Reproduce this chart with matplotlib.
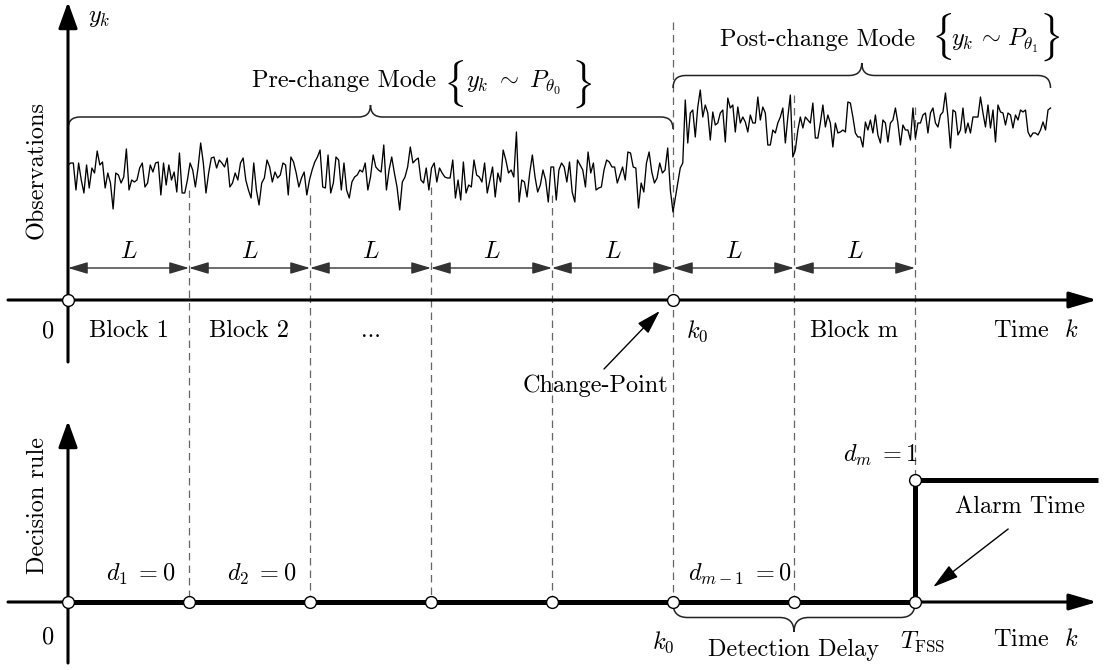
import numpy as np
import matplotlib.pyplot as plt
from matplotlib.path import Path
from matplotlib.patches import PathPatch

plt.rcParams['font.family'] = 'cmr10'
plt.rcParams['mathtext.fontset'] = 'cm'
plt.rcParams['axes.unicode_minus'] = False

# observations y_k before the change point (blocks 1..5)
pre_change = [
    35, 37, 37, 10, 37, 20, 7, 35, 12, 32, 27, 49, 35, 38, 12, 27, 17, -9, 27, 25,
    17, 23, 51, 10, 20, 18, 20, 32, 37, 13, 17, 35, 28, 37, 38, 5, 37, 15, 35, 20,
    28, 8, 47, 7, 7, 20, 37, 30, 13, 32, 57, 37, 7, 27, 42, 43, 32, 40, 37, 33,
    42, 13, 17, 27, 20, 37, 42, 20, 10,
    2, 37, 10, -5, 17, 22, 40, 33, 18, 28, 22, 25, 37, 35, 5, 43, 38, 27, 13, 22,
    28, 5, 20, 30, 38, 43, 50, 13, 12, 45, 7, 17, 43, 40, 10, 37, 10, 2, 18, 23,
    25, 30, 28, 37, 10, 23, 45, 33, 30, 28, 55, 10, 30, 43, 27, 13, -10, 18, 23, 33,
    53, 37, 40, 42, 20, 17, 32, 10, 32, 37, 18, 32, 27, 23,
    22, 22, 40, 2, 20, 0, 38, 7, 15, 13, 40, 25, 23, 18, 37, 7, 20, 33, 3, 27,
    18, 50, 40, 27, 30, 23, 68, -2, 20, 18, 3, 27, 45, 23, 8, 15, 30, 20, -2, 33,
    33, 0, 30, 37, 33, 18, 38, 8, -2, 40, 35, 30, 13, 48, 27, 37, 10, 12, 13, 30,
    40, 38, 33, 33, 17, 25, 33, 20, 48, 47, 33, 32, -8, 17, 8, 37, 48, 28, 17, 22,
    37, 27, 30, 52, 10, -12,
]

# observations y_k after the change point
post_change = [
    32, 37, 100, 57, 87, 90, 63, 93, 110, 83, 95, 87, 60, 88, 75, 77, 87, 90, 58, 102,
    92, 95, 68, 93, 77, 83, 78, 68, 85, 77, 77, 103, 80, 93, 87, 55, 55, 70, 67, 77,
    83, 92, 57, 83, 105, 43, 50, 70, 83, 72, 83, 80, 77, 97, 62, 62, 77, 95, 73, 85,
    77, 53, 77, 67, 68, 70, 68, 98, 97, 83, 67,
    63, 63, 53, 78, 70, 80, 67, 85, 65, 57, 80, 77, 58, 77, 80, 92, 77, 55, 75, 70,
    70, 60, 92, 62, 77, 77, 85, 87, 67, 87, 92, 77, 73, 85, 88, 107, 83, 52, 90, 88,
    65, 70, 92, 67, 77, 67, 83, 83, 83, 103, 87, 73, 95, 72, 90, 58, 95, 88, 87, 75,
    87, 85, 72, 85, 80, 90, 88, 90, 68, 63, 67, 67, 65, 70, 78, 70, 90, 92,
]

# decision d_i taken at the end of each block
decisions = [0, 0, 0, 0, 0, 0, 1]
k0 = 5                      # change point, in blocks of length L
post_end = 8.12             # last observation, in blocks
block_names = ['Block 1', 'Block 2', '...']
d_labels = [r'$d_1\; = 0$', r'$d_2\; = 0$']

PX = 121.0                  # pixels per block
W, H = 1106, 670
FS = 17.5

fig = plt.figure(figsize=(W / 100, H / 100), dpi=100)
ax = fig.add_axes([0, 0, 1, 1])
ax.set_ylim(H, 0)
ax.axis('off')

# observation scale and decision scale on top of the layout axes
ax_obs = ax.twinx()
ax_obs.set_ylim(200 - H, 200)
ax_obs.axis('off')
ax_dec = ax.twinx()
ax_dec.set_ylim(-68 / 122, 602 / 122)
ax_dec.axis('off')


def arrow(a, b, lw=2.2, hl=1.7, hw=0.5, style='-|>', color='k'):
    ax.annotate('', xy=b, xytext=a,
                arrowprops=dict(arrowstyle=f'{style},head_length={hl},head_width={hw}',
                                lw=lw, color=color, shrinkA=0, shrinkB=0,
                                mutation_scale=10))


def brace(x0, x1, y, r, sign):
    # curly brace between x0 and x1 (blocks); r and y in pixels, sign=-1 opens down
    rx = r / PX
    xm = (x0 + x1) / 2
    y1 = y + sign * r
    y2 = y + 2 * sign * r
    verts = [(x0, y), (x0, y1), (x0 + rx, y1),
             (xm - rx, y1),
             (xm, y1), (xm, y2),
             (xm, y1), (xm + rx, y1),
             (x1 - rx, y1),
             (x1, y1), (x1, y)]
    codes = [Path.MOVETO, Path.CURVE3, Path.CURVE3,
             Path.LINETO,
             Path.CURVE3, Path.CURVE3,
             Path.CURVE3, Path.CURVE3,
             Path.LINETO,
             Path.CURVE3, Path.CURVE3]
    ax.add_patch(PathPatch(Path(verts, codes), fc='none', ec='#222222', lw=1.1))


def mode_label(x, y, name, x_open, x_body, x_close, y_brace, theta, gap):
    ax.text(x, y, name, fontsize=FS, ha='left', va='baseline')
    ax.text(x_open, y_brace, r'$\{$', fontsize=29, ha='center', va='center')
    ax.text(x_body, y, rf'$y_k{gap}\sim{gap}P_{{\theta_{theta}}}$', fontsize=FS,
            ha='left', va='baseline')
    ax.text(x_close, y_brace, r'$\}$', fontsize=29, ha='center', va='center')


x_axis_start, x_axis_end = -0.496, 8.504

# axes of both panels
arrow((x_axis_start, 300), (x_axis_end, 300))
arrow((0, 362), (0, 2), hl=1.6, hw=0.58)
arrow((x_axis_start, 602), (x_axis_end, 602))
arrow((0, 663), (0, 421), hl=1.6, hw=0.58)

# block boundaries
n_blocks = len(decisions)
alarm = decisions.index(1) + 1
dash_top = [190, 195, 187, 195, 22, 95, 107]
for b, top in zip(range(1, n_blocks + 1), dash_top):
    bottom = 480 if b == alarm else 602
    ax.plot([b, b], [top, bottom], ls=(0, (6, 4)), lw=0.9, color='#666666', zorder=1)

# block length arrows
for b in range(n_blocks):
    arrow((b, 268), (b + 1, 268), lw=1.0, hl=1.2, hw=0.36, style='<|-|>', color='#333333')
    ax.text(b + 0.5, 252, '$L$', fontsize=FS, ha='center', va='center')

# observation trace
k_pre = np.linspace(0, k0, len(pre_change))
k_post = np.linspace(k0 + 0.06, post_end, len(post_change))
ax_obs.plot(np.r_[k_pre, k_post], np.r_[pre_change, post_change],
            color='k', lw=0.95, zorder=3)

# decision rule
ax_dec.step([0, alarm, 8.51], [0, 1, 1], where='post', color='k', lw=3.6,
            solid_joinstyle='miter', solid_capstyle='butt', zorder=3)
ax_dec.plot(range(0, n_blocks + 1), [0] * (n_blocks + 1), 'o', ms=8.5,
            mfc='w', mec='k', mew=1, zorder=5)
ax_dec.plot([alarm], [1], 'o', ms=8.5, mfc='w', mec='k', mew=1, zorder=5)
ax.plot([0, k0], [300, 300], 'o', ms=8.5, mfc='w', mec='k', mew=1, zorder=5)

# braces
brace(0, k0, 129, 12, -1)
brace(k0, 8.12, 88, 12.5, -1)
brace(k0, alarm, 603, 14.5, 1)

mode_label(1.52, 87, 'Pre-change Mode', 3.19, 3.29, 4.24, 84, 0, r'\ ')
mode_label(5.39, 46, 'Post-change Mode', 7.22, 7.30, 8.11, 37, 1, r'\,')

# top panel labels
ax.text(0.26, 18, '$y_k$', fontsize=FS, ha='center', va='center')
ax.text(-0.256, 170, 'Observations', fontsize=FS, rotation=90, ha='center', va='center')
ax.text(-0.165, 331, '0', fontsize=FS, ha='center', va='center')
for i, name in enumerate(block_names):
    ax.text(i + 0.5, 331, name, fontsize=FS, ha='center', va='center')
ax.text(5.2, 331, '$k_0$', fontsize=FS, ha='center', va='center')
ax.text(6.5, 331, 'Block m', fontsize=FS, ha='center', va='center')
ax.text(8.0, 331, 'Time  $k$', fontsize=FS, ha='center', va='center')
ax.text(4.36, 386, 'Change-Point', fontsize=FS, ha='center', va='center')
ax.annotate('', xy=(4.89, 311), xytext=(4.43, 369),
            arrowprops=dict(arrowstyle='-|>,head_length=1.5,head_width=0.45',
                            lw=1.0, color='k', shrinkA=0, shrinkB=0, mutation_scale=10))

# bottom panel labels
ax.text(-0.248, 506, 'Decision rule', fontsize=FS, rotation=90, ha='center', va='center')
ax.text(-0.165, 637, '0', fontsize=FS, ha='center', va='center')
for i, lab in enumerate(d_labels):
    ax.text(i + 0.6, 574, lab, fontsize=FS, ha='center', va='center')
ax.text(5.55, 574, r'$d_{m-1}\; = 0$', fontsize=FS, ha='center', va='center')
ax.text(6.71, 455, r'$d_m\; = 1$', fontsize=FS, ha='center', va='center')
ax.text(7.87, 507, 'Alarm Time', fontsize=FS, ha='center', va='center')
ax.annotate('', xy=(7.15, 587), xytext=(7.77, 529),
            arrowprops=dict(arrowstyle='-|>,head_length=1.6,head_width=0.45',
                            lw=1.0, color='k', shrinkA=0, shrinkB=0, mutation_scale=10))
ax.text(4.92, 642, '$k_0$', fontsize=FS, ha='center', va='center')
ax.text(6.0, 650, 'Detection Delay', fontsize=FS, ha='center', va='center')
ax.text(7.06, 642, r'$T_{\mathrm{FSS}}$', fontsize=FS, ha='center', va='center')
ax.text(8.0, 640, 'Time  $k$', fontsize=FS, ha='center', va='center')

ax.set_xlim(-68 / PX, (W - 68) / PX)

fig.savefig('out.png', dpi=100)
